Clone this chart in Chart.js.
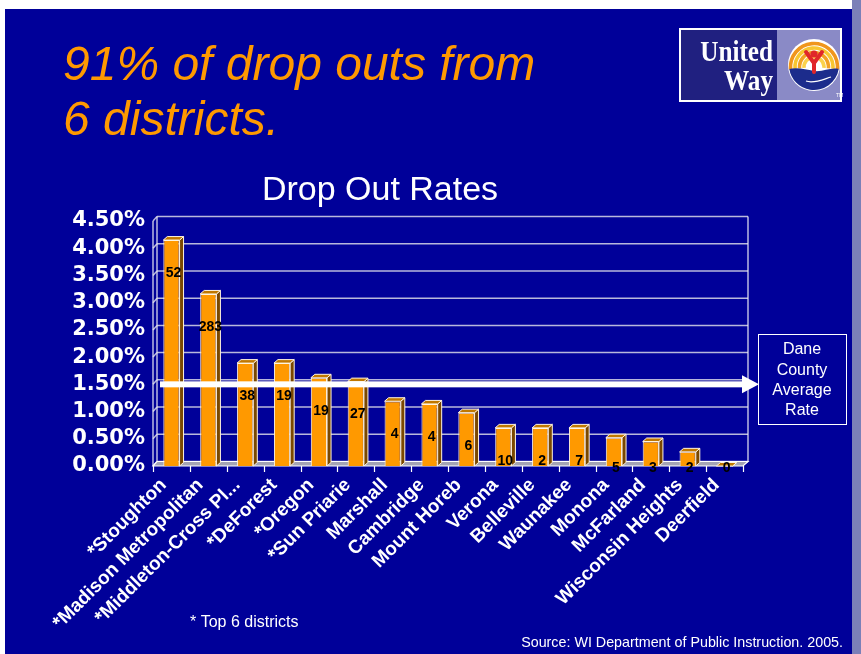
<!DOCTYPE html>
<html>
<head>
<meta charset="utf-8">
<script src="https://cdn.jsdelivr.net/npm/chart.js@4"></script>
<style>
  html, body { margin: 0; padding: 0; background: #fff; }
  canvas { display: block; }
</style>
</head>
<body>
<canvas id="c" width="861" height="654"></canvas>
<script>
// Drop out rates by school district, Dane County
const districts = [
  '*Stoughton', '*Madison Metropolitan', '*Middleton-Cross Pl...', '*DeForest',
  '*Oregon', '*Sun Priarie', 'Marshall', 'Cambridge', 'Mount Horeb', 'Verona',
  'Belleville', 'Waunakee', 'Monona', 'McFarland', 'Wisconsin Heights', 'Deerfield'
];
const dropOutRate = [4.15, 3.16, 1.89, 1.89, 1.62, 1.55, 1.19, 1.14, 0.98, 0.70, 0.70, 0.70, 0.52, 0.45, 0.26, 0];
const dropOutCount = [52, 283, 38, 19, 19, 27, 4, 4, 6, 10, 2, 7, 5, 3, 2, 0];
const countyAverage = 1.5;
const yTicks = [0, 0.5, 1, 1.5, 2, 2.5, 3, 3.5, 4, 4.5];

const BLUE = '#000099';
const ORANGE = '#ff9900';
const DEPTH_X = 4, DEPTH_Y = 4.5;   // back wall offset
const BAR_DX = 4, BAR_DY = 3.5;     // bar depth

Chart.defaults.font.family = '"Liberation Sans", Arial, sans-serif';

const slidePlugin = {
  id: 'slide',
  beforeDraw(chart) {
    const ctx = chart.ctx;
    ctx.save();
    ctx.fillStyle = '#fff';
    ctx.fillRect(0, 0, chart.width, chart.height);
    ctx.fillStyle = BLUE;
    ctx.fillRect(5, 9, 847, chart.height - 9);
    ctx.fillStyle = '#7b80b8';
    ctx.fillRect(852, 0, 9, chart.height);
    ctx.restore();
  },
  beforeDatasetsDraw(chart) {
    const { ctx, chartArea: a, scales: { y } } = chart;
    ctx.save();
    // back wall gridlines
    ctx.strokeStyle = '#b8b8dc';
    ctx.lineWidth = 1.5;
    yTicks.forEach(v => {
      const py = y.getPixelForValue(v);
      ctx.beginPath();
      ctx.moveTo(a.left + DEPTH_X, py - DEPTH_Y);
      ctx.lineTo(a.right + DEPTH_X + 1, py - DEPTH_Y);
      ctx.stroke();
      // little step on the side wall
      ctx.beginPath();
      ctx.moveTo(a.left, py);
      ctx.lineTo(a.left + DEPTH_X, py - DEPTH_Y);
      ctx.stroke();
    });
    // walls
    ctx.strokeStyle = '#e8e8f4';
    ctx.lineWidth = 1.2;
    ctx.beginPath();
    ctx.moveTo(a.left + DEPTH_X, a.top - DEPTH_Y);
    ctx.lineTo(a.left + DEPTH_X, a.bottom - DEPTH_Y);
    ctx.moveTo(a.left, a.top);
    ctx.lineTo(a.left, a.bottom);
    ctx.moveTo(a.right + DEPTH_X + 1, a.top - DEPTH_Y);
    ctx.lineTo(a.right + DEPTH_X + 1, a.bottom - DEPTH_Y);
    ctx.stroke();
    // floor
    ctx.fillStyle = '#a4a4b4';
    ctx.beginPath();
    ctx.moveTo(a.left, a.bottom);
    ctx.lineTo(a.left + DEPTH_X, a.bottom - DEPTH_Y);
    ctx.lineTo(a.right + DEPTH_X + 1, a.bottom - DEPTH_Y);
    ctx.lineTo(a.right, a.bottom);
    ctx.closePath();
    ctx.fill();
    ctx.strokeStyle = '#fff';
    ctx.lineWidth = 1.2;
    ctx.stroke();
    // category tick marks
    const n = districts.length;
    const step = (a.right - a.left) / n;
    ctx.beginPath();
    for (let i = 0; i <= n; i++) {
      const px = Math.round(a.left + i * step) + 0.5;
      ctx.moveTo(px, a.bottom);
      ctx.lineTo(px, a.bottom + 6);
    }
    ctx.stroke();
    ctx.restore();
  },
  afterDatasetsDraw(chart) {
    const { ctx, scales: { y } } = chart;
    const meta = chart.getDatasetMeta(0);
    ctx.save();
    ctx.lineWidth = 1;
    ctx.strokeStyle = '#fff4e0';
    meta.data.forEach(bar => {
      const w = bar.width;
      const l = bar.x - w / 2, r = bar.x + w / 2, t = bar.y, b = bar.base;
      // side face
      ctx.fillStyle = '#7a4800';
      ctx.beginPath();
      ctx.moveTo(r, t);
      ctx.lineTo(r + BAR_DX, t - BAR_DY);
      ctx.lineTo(r + BAR_DX, b - BAR_DY);
      ctx.lineTo(r, b);
      ctx.closePath();
      ctx.fill();
      ctx.stroke();
      // top face
      ctx.fillStyle = '#c07800';
      ctx.beginPath();
      ctx.moveTo(l, t);
      ctx.lineTo(l + BAR_DX, t - BAR_DY);
      ctx.lineTo(r + BAR_DX, t - BAR_DY);
      ctx.lineTo(r, t);
      ctx.closePath();
      ctx.fill();
      ctx.stroke();
    });

    // county average arrow
    const ay = y.getPixelForValue(countyAverage);
    ctx.fillStyle = '#fff';
    ctx.fillRect(160, ay - 3, 585, 6);
    ctx.beginPath();
    ctx.moveTo(742, ay - 9);
    ctx.lineTo(759, ay);
    ctx.lineTo(742, ay + 9);
    ctx.closePath();
    ctx.fill();

    // district counts
    ctx.fillStyle = '#000';
    ctx.font = 'bold 14px "Liberation Sans", Arial, sans-serif';
    ctx.textAlign = 'center';
    ctx.textBaseline = 'middle';
    meta.data.forEach((bar, i) => {
      const ly = Math.min(bar.y + 33, bar.base + 2);
      ctx.fillText(String(dropOutCount[i]), bar.x + 2, ly);
    });
    ctx.restore();
  },
  afterDraw(chart) {
    const ctx = chart.ctx;
    ctx.save();
    // headline
    ctx.fillStyle = ORANGE;
    ctx.font = 'italic 48px "Liberation Sans", Arial, sans-serif';
    ctx.textAlign = 'left';
    ctx.textBaseline = 'alphabetic';
    ctx.fillText('91% of drop outs from', 63, 80);
    ctx.fillText('6 districts.', 63, 135);

    // chart title
    ctx.fillStyle = '#fff';
    ctx.font = '34px "Liberation Sans", Arial, sans-serif';
    ctx.textAlign = 'center';
    ctx.fillText('Drop Out Rates', 380, 200);

    // county average legend box
    ctx.strokeStyle = '#fff';
    ctx.lineWidth = 1;
    ctx.strokeRect(758.5, 334.5, 88, 90);
    ctx.font = '16px "Liberation Sans", Arial, sans-serif';
    ctx.textBaseline = 'middle';
    ['Dane', 'County', 'Average', 'Rate'].forEach((s, i) => ctx.fillText(s, 802, 350 + i * 20.2));

    // notes
    ctx.textAlign = 'left';
    ctx.font = '16px "Liberation Sans", Arial, sans-serif';
    ctx.fillText('* Top 6 districts', 190, 623);
    ctx.textAlign = 'right';
    ctx.font = '14.3px "Liberation Sans", Arial, sans-serif';
    ctx.fillText('Source: WI Department of Public Instruction. 2005.', 843, 643);

    drawLogo(ctx);
    ctx.restore();
  }
};

function drawLogo(ctx) {
  const x = 679, y = 28, w = 163, h = 74;
  ctx.save();
  ctx.fillStyle = '#fff';
  ctx.fillRect(x, y, w, h);
  ctx.fillStyle = '#202080';
  ctx.fillRect(x + 2, y + 2, 96, h - 4);
  ctx.fillStyle = '#8a8ac6';
  ctx.fillRect(x + 98, y + 2, w - 100, h - 4);

  ctx.fillStyle = '#fff';
  ctx.font = 'bold 28px "Liberation Serif", "DejaVu Serif", serif';
  ctx.textAlign = 'right';
  ctx.textBaseline = 'alphabetic';
  ctx.save();
  ctx.translate(773, 0);
  ctx.scale(0.9, 1.05);
  ctx.fillText('United', 0, 58);
  ctx.fillText('Way', 0, 85.5);
  ctx.restore();

  const cx = 814, cy = 65, r = 26;
  ctx.beginPath();
  ctx.arc(cx, cy, r, 0, Math.PI * 2);
  ctx.fill();
  const rings = [[23.5, '#f0961c'], [19, '#f8c630'], [14.5, '#f2a224'], [10, '#fbd24c']];
  ctx.lineWidth = 3.6;
  rings.forEach(([rr, col]) => {
    ctx.strokeStyle = col;
    ctx.beginPath();
    ctx.arc(cx, cy + 2, rr, Math.PI * 0.97, Math.PI * 2.03);
    ctx.stroke();
  });
  // hand
  ctx.fillStyle = '#1c2c8c';
  ctx.beginPath();
  ctx.arc(cx, cy, r - 1, Math.PI * 0.05, Math.PI * 0.95);
  ctx.bezierCurveTo(cx - 18, cy + 2, cx - 8, cy + 4, cx, cy + 6);
  ctx.bezierCurveTo(cx + 10, cy + 7, cx + 16, cy + 2, cx + 25, cy + 4);
  ctx.closePath();
  ctx.fill();
  ctx.strokeStyle = '#fff';
  ctx.lineWidth = 1.2;
  ctx.beginPath();
  ctx.moveTo(cx - 8, cy + 16);
  ctx.bezierCurveTo(cx, cy + 19, cx + 10, cy + 14, cx + 17, cy + 12);
  ctx.stroke();
  // figure
  ctx.strokeStyle = '#e0262a';
  ctx.fillStyle = '#e0262a';
  ctx.lineWidth = 4;
  ctx.lineCap = 'round';
  ctx.beginPath();
  ctx.moveTo(cx - 8, cy - 13);
  ctx.lineTo(cx, cy - 2);
  ctx.lineTo(cx + 8, cy - 13);
  ctx.moveTo(cx, cy - 2);
  ctx.lineTo(cx, cy + 7);
  ctx.stroke();
  ctx.beginPath();
  ctx.arc(cx, cy - 11, 3.6, 0, Math.PI * 2);
  ctx.fill();
  ctx.fillStyle = '#fff';
  ctx.font = '5px "Liberation Sans", Arial, sans-serif';
  ctx.textAlign = 'left';
  ctx.fillText('TM', 836, 97);
  ctx.restore();
}

new Chart(document.getElementById('c'), {
  type: 'bar',
  data: {
    labels: districts,
    datasets: [{
      data: dropOutRate,
      backgroundColor: ORANGE,
      borderColor: '#fff4e0',
      borderWidth: 1,
      barPercentage: 0.44,
      categoryPercentage: 1
    }]
  },
  options: {
    responsive: false,
    animation: false,
    events: [],
    layout: { padding: { top: 221, right: 118, bottom: 0, left: 0 } },
    plugins: { legend: { display: false }, title: { display: false }, tooltip: { enabled: false } },
    scales: {
      x: {
        grid: { display: false, drawTicks: false },
        border: { display: false },
        ticks: {
          color: '#fff',
          autoSkip: false,
          minRotation: 45,
          maxRotation: 45,
          padding: 8,
          labelOffset: -8,
          font: { family: '"Liberation Sans", Arial, sans-serif', weight: 'bold', size: 19 }
        },
        afterFit(scale) { scale.height = 188; }
      },
      y: {
        min: 0,
        max: 4.5,
        grid: { display: false, drawTicks: false },
        border: { display: false },
        ticks: {
          stepSize: 0.5,
          autoSkip: false,
          color: '#fff',
          padding: 8,
          font: { family: '"DejaVu Sans", sans-serif', weight: 'bold', size: 21 },
          callback: v => v.toFixed(2) + '%'
        },
        afterFit(scale) { scale.width = 153; }
      }
    }
  },
  plugins: [slidePlugin]
});
</script>
</body>
</html>
